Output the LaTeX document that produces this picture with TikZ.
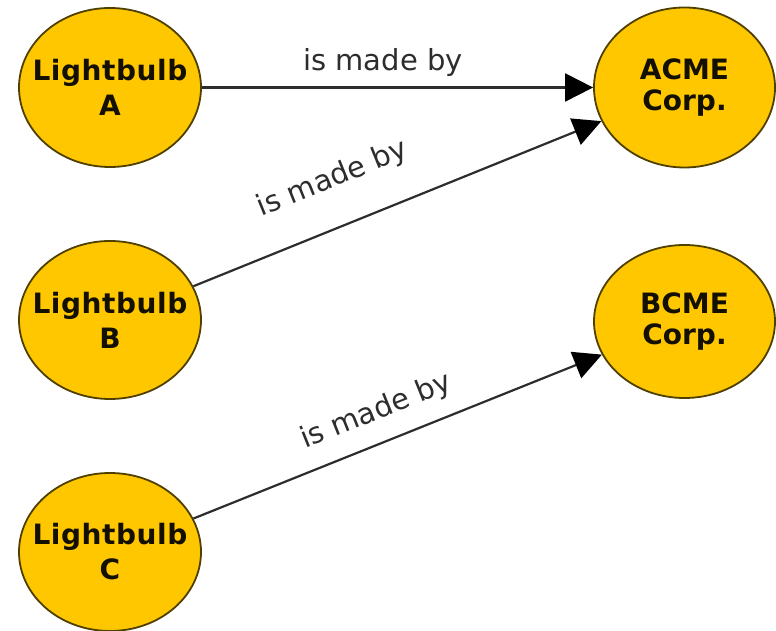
\documentclass[tikz,border=0pt]{standalone}
\usepackage{fontspec}
\setmainfont{DejaVu Sans}
\usetikzlibrary{arrows.meta,shapes.geometric}
\definecolor{bulbfill}{RGB}{255,199,0}
\definecolor{bulbline}{RGB}{80,64,0}
\definecolor{edgecol}{RGB}{45,45,45}
\definecolor{txtcol}{RGB}{20,16,0}
\begin{document}
\begin{tikzpicture}[x=1pt,y=1pt,
  entity/.style={ellipse, draw=bulbline, fill=bulbfill, line width=1.8pt,
    minimum width=182pt, minimum height=159pt, inner sep=0pt},
  entitytext/.style={font=\bfseries\fontsize{28}{35}\selectfont\addfontfeature{LetterSpace=2}, text=txtcol,
    align=center, inner sep=0pt},
  corptext/.style={entitytext, font=\bfseries\fontsize{28}{31}\selectfont},
  rel/.style={draw=edgecol, line width=2.2pt,
    -{Triangle[length=28pt,width=28pt,color=black]}},
  rellabel/.style={font=\fontsize{29}{34}\selectfont, text=edgecol,
    inner sep=0pt, sloped}]
\useasboundingbox (0,0) rectangle (776,631);
\node[entity, label={[entitytext]center:Lightbulb\\A}] (a) at (110,543.5) {};
\node[entity, minimum height=158pt, label={[entitytext]center:Lightbulb\\B}] (b) at (110,311) {};
\node[entity, minimum height=158pt, label={[entitytext]center:Lightbulb\\C}] (c) at (110,79) {};
\node[entity, minimum width=181pt, minimum height=160pt, label={[corptext]center:ACME\\Corp.}] (acme) at (684.5,543.5) {};
\node[entity, minimum width=181pt, minimum height=153pt, label={[corptext]center:BCME\\Corp.}] (bcme) at (684.5,309.5) {};
\draw[rel] (a) -- node[rellabel, pos=0.463, above=10pt] {is made by} (acme);
\draw[rel] (b) -- node[rellabel, pos=0.385, above=32pt] {is made by} (acme);
\draw[rel] (c) -- node[rellabel, pos=0.476, above=16pt] {is made by} (bcme);
\end{tikzpicture}
\end{document}
